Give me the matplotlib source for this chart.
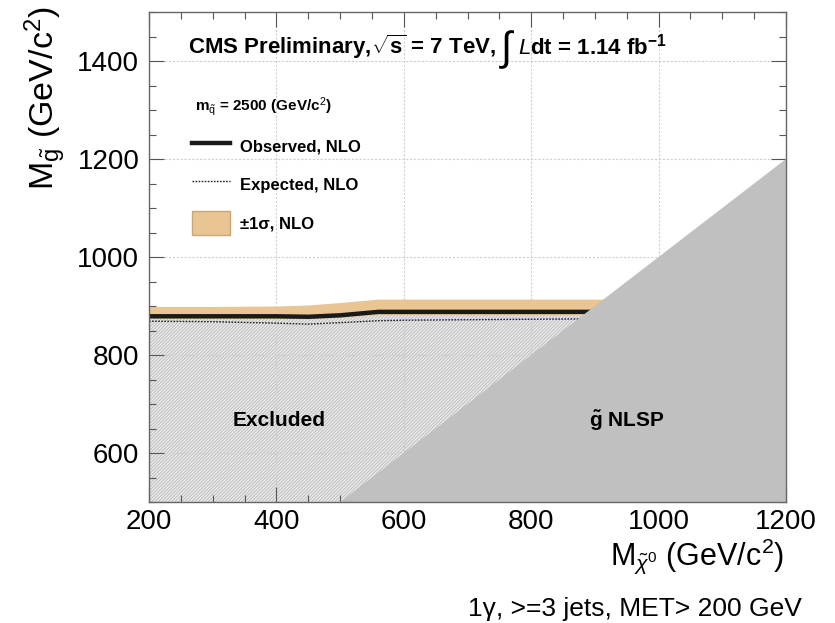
import matplotlib
matplotlib.use("Agg")
import matplotlib.pyplot as plt
from matplotlib.patches import Patch
from matplotlib.ticker import MultipleLocator

plt.rcParams['font.family'] = ['Liberation Sans', 'DejaVu Sans']
plt.rcParams['mathtext.fontset'] = 'custom'
plt.rcParams['mathtext.rm'] = 'Liberation Sans'
plt.rcParams['mathtext.it'] = 'Liberation Sans:italic'
plt.rcParams['mathtext.bf'] = 'Liberation Sans:bold'
plt.rcParams['hatch.linewidth'] = 0.5

# ---- data ----
m_chi = [200, 300, 400, 450, 500, 560, 600, 700, 800, 930]
observed = [879, 879, 879, 878, 881, 888, 888, 888, 888, 888]
expected = [869, 868, 865, 863, 866, 870, 871, 872, 873, 874]
band_lo = [874, 874, 874, 873, 876, 881, 881, 881, 881, 881]
band_hi = [898, 898, 899, 901, 906, 913, 913, 913, 913, 913]
diag = [500, 1200]          # M_chi = M_gluino boundary
x_lim = [200, 1200]
y_lim = [500, 1500]
x_ticks = [200, 400, 600, 800, 1000, 1200]
y_ticks = [600, 800, 1000, 1200, 1400]

fig = plt.figure(figsize=(8.35, 6.23), dpi=100)
ax = fig.add_axes([149/835, 1-502/623, 637/835, 490/623])

# excluded hatched region below observed
ax.fill_between(m_chi, y_lim[0], observed, facecolor='#e9e9e9', edgecolor='#b0b0b0',
                hatch='//////////', linewidth=0, zorder=1)
# band
ax.fill_between(m_chi, band_lo, band_hi, facecolor='#e8c592', edgecolor='none', zorder=3)
obs_line, = ax.plot(m_chi, observed, color='#1a1a1a', lw=3.2, zorder=4)
exp_line, = ax.plot(m_chi, expected, color='#222222', lw=1.0, ls=(0, (1.2, 1.0)), zorder=4)

# gluino NLSP region
ax.fill_between(diag, [y_lim[0], y_lim[0]], diag, facecolor='#c0c0c0', edgecolor='none', zorder=5)

ax.set_xlim(x_lim)
ax.set_ylim(y_lim)
ax.set_xticks(x_ticks)
ax.set_yticks(y_ticks)
ax.xaxis.set_minor_locator(MultipleLocator(50))
ax.yaxis.set_minor_locator(MultipleLocator(50))
ax.tick_params(which='both', direction='in', top=True, right=True, color='#555555', width=0.8)
ax.tick_params(which='major', length=11, labelsize=20, pad=7)
ax.tick_params(which='minor', length=5)
ax.tick_params(axis='x', which='major', pad=5)
ax.grid(True, which='major', color='#cfcfcf', lw=0.8, ls=(0, (2, 1.5)), zorder=2)
ax.set_axisbelow(False)
for s in ax.spines.values():
    s.set_color('#666666')
    s.set_linewidth(1.0)
    s.set_zorder(6)

# header, built in three pieces placed one after another
renderer = fig.canvas.get_renderer()
hy = 1 - 47/623
t1 = fig.text(188/835, hy, r'CMS Preliminary,$\sqrt{\mathbf{s}}$ = 7 TeV, ',
              fontsize=16, fontweight='bold', va='center', ha='left', zorder=7)
x1 = t1.get_window_extent(renderer).x1
t2 = fig.text(x1/835 + 0.002, hy - 0.004, r'$\int$', fontsize=29, va='center', ha='left', zorder=7)
x2 = t2.get_window_extent(renderer).x1
fig.text(x2/835 + 0.002, hy, r'$\mathbf{\mathit{L}}$dt = 1.14 fb$^{\mathbf{-1}}$',
         fontsize=16, fontweight='bold', va='center', ha='left', zorder=7)

ax.text(405, 666, 'Excluded', fontsize=15, fontweight='bold', ha='center', va='center', zorder=7)
ax.text(950, 666, r'$\mathbf{\tilde{g}}$ NLSP', fontsize=15, fontweight='bold', ha='center', va='center', zorder=7)

leg = ax.legend([obs_line, exp_line, Patch(facecolor='#e8c592', edgecolor='#c8a878')],
                ['Observed, NLO', 'Expected, NLO', '±1σ, NLO'],
                loc='upper left', bbox_to_anchor=(192/835, 1-134/623), bbox_transform=fig.transFigure,
                frameon=False, prop={'weight': 'bold', 'size': 12}, handlelength=2.3,
                handleheight=1.9, handletextpad=0.55, labelspacing=0.82, borderpad=0, borderaxespad=0)
leg.set_zorder(7)
fig.text(195/835, 1-107/623, r'm$_{\tilde{\mathrm{q}}}$ = 2500 (GeV/c$^{2}$)', fontsize=11,
         fontweight='bold', ha='left', va='center')

fig.text(784/835, 1-565/623, r'M$_{\tilde{\chi}^{0}}$ (GeV/c$^{2}$)', fontsize=22, ha='right', va='baseline')
fig.text(45/835, 1-6/623, r'M$_{\tilde{\mathrm{g}}}$ (GeV/c$^{2}$)', fontsize=24.5, rotation=90,
         ha='center', va='top')
fig.text(802/835, 1-616/623, '1γ, >=3 jets, MET> 200 GeV', fontsize=19, ha='right', va='baseline')

fig.savefig('out.png', dpi=100)
